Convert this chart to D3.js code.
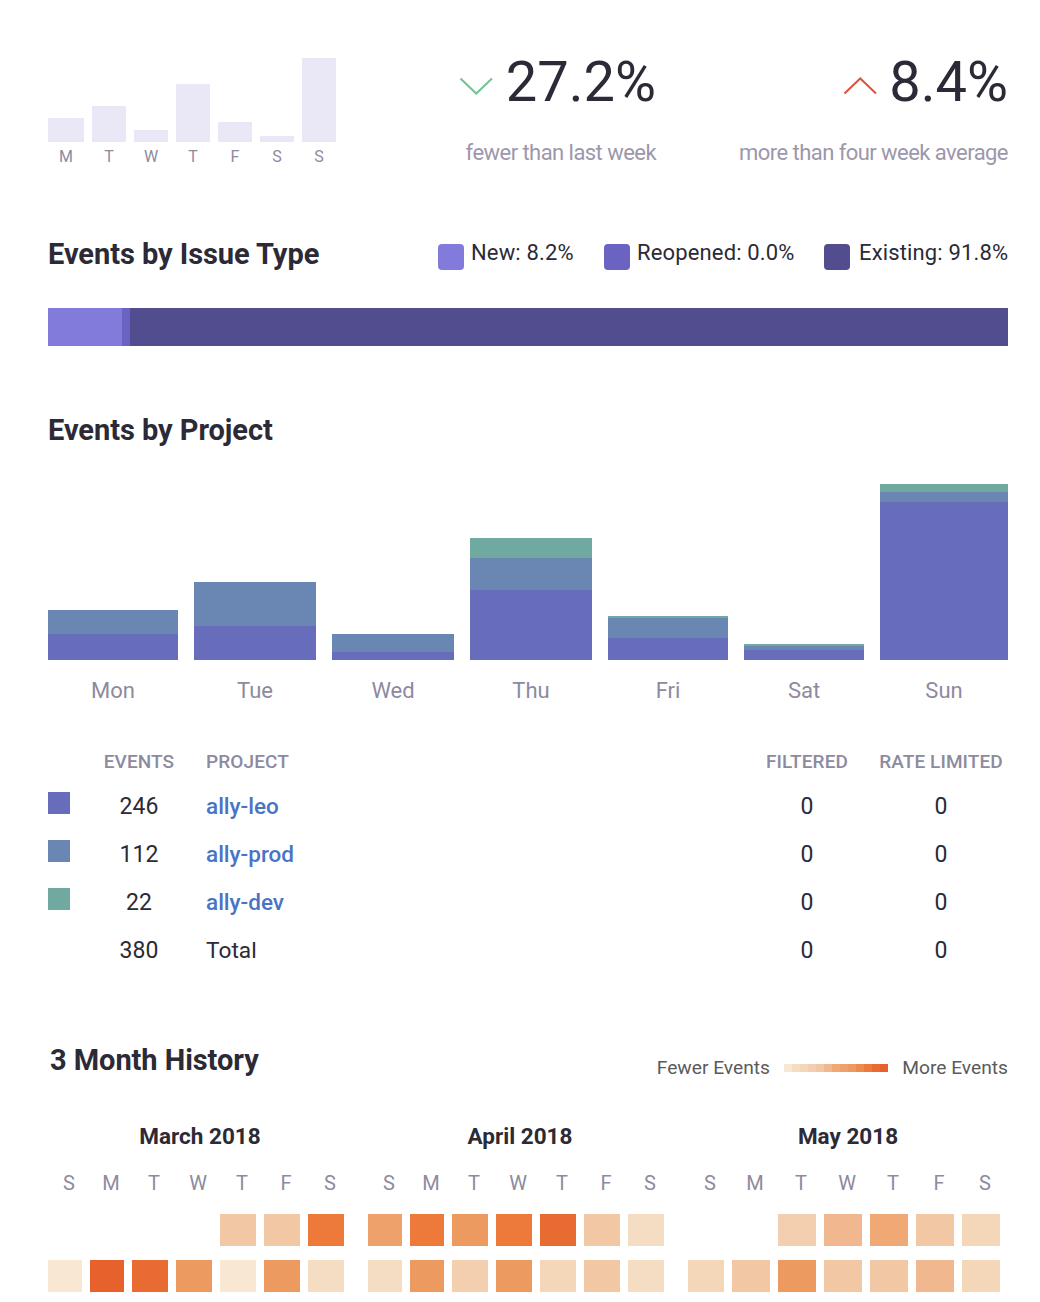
<!DOCTYPE html>
<html>
<head>
<meta charset="utf-8">
<script src="https://cdn.jsdelivr.net/npm/d3@7"></script>
<style>
  html, body { margin: 0; padding: 0; background: #fff; }
  svg { display: block; font-family: Roboto, sans-serif; }
  .axis path, .axis line { display: none; }
</style>
</head>
<body>
<svg id="chart" width="1040" height="1302"></svg>
<script>
// ---- data ----
const weekLetters = ['M', 'T', 'W', 'T', 'F', 'S', 'S'];
const weekEvents = [24, 36, 12, 58, 20, 6, 84];

const issueNames = ['New', 'Reopened', 'Existing'];
const issueLabels = ['8.2%', '0.0%', '91.8%'];
// the bar gives Reopened a minimum width, so the drawn shares differ a little from the labels
const issueDrawn = [7.7, 0.8, 91.5];

const days = ['Mon', 'Tue', 'Wed', 'Thu', 'Fri', 'Sat', 'Sun'];
const projects = ['ally-leo', 'ally-prod', 'ally-dev'];
const leoByDay = [19.5, 25.5, 6, 52.5, 16.5, 7.5, 118.5];
const prodByDay = [18, 33, 13.5, 24, 15, 3, 7.5];
const devByDay = [0, 0, 0, 15, 1.5, 1.5, 6];

const tableHeaders = ['EVENTS', 'PROJECT', 'FILTERED', 'RATE LIMITED'];
const projectEvents = [246, 112, 22];
const projectFiltered = [0, 0, 0];
const projectLimited = [0, 0, 0];
const totals = [380, 0, 0];

const calLetters = ['S', 'M', 'T', 'W', 'T', 'F', 'S'];
const monthNames = ['March 2018', 'April 2018', 'May 2018'];
const marchLevels = [[null, null, null, null, 5, 5, 11], [1, 13, 12, 9, 1, 9, 2]];
const aprilLevels = [[8, 11, 9, 11, 12, 5, 2], [2, 9, 4, 9, 3, 5, 2]];
const mayLevels = [[null, null, 4, 6, 7, 5, 3], [3, 5, 9, 5, 5, 6, 3]];
const heatSteps = d3.range(1, 14);

// ---- colours ----
const ink = '#2b2a36';
const muted = '#8d8a9f';
const issueColors = ['#837bdb', '#6b63c1', '#524d8e'];
const projectColors = ['#676dbb', '#6a87b3', '#6fa9a0'];
const heatColors = ['#f7e7d3', '#f5ddc4', '#f4d6b8', '#f3cfb0', '#f2c7a4', '#f1b88f', '#f0a974',
  '#eea16b', '#ed9a60', '#ee8a4b', '#ed7a3b', '#e86b31', '#e6612c'];
const heat = d3.scaleOrdinal(heatSteps, heatColors);

const svg = d3.select('#chart');

// columns in the page are flex items, their widths differ by a pixel or two
function columns(widths, x0, gap) {
  const idx = d3.range(widths.length);
  const lefts = idx.map(i => x0 + d3.sum(widths.slice(0, i)) + gap * i);
  return {
    left: d3.scaleOrdinal(idx, lefts),
    center: d3.scaleOrdinal(idx, lefts.map((l, i) => l + widths[i] / 2)),
    width: d3.scaleOrdinal(idx, widths)
  };
}

function labelAxis(scale, y, labels, size, color, weight) {
  const g = svg.append('g').attr('class', 'axis').attr('transform', `translate(0,${y})`)
    .call(d3.axisBottom(scale).tickSize(0).tickPadding(0).offset(0).tickFormat(i => labels[i]));
  g.attr('fill', null).attr('font-family', null).attr('font-size', null);
  g.selectAll('text').attr('y', 0).attr('dy', null)
    .attr('fill', color).attr('font-size', size).attr('font-weight', weight || 400);
  return g;
}

function text(str, x, y, size, color, anchor, weight, spacing) {
  return svg.append('text').text(str).attr('x', x).attr('y', y)
    .attr('font-size', size).attr('fill', color)
    .attr('text-anchor', anchor || 'start').attr('font-weight', weight || 400)
    .attr('letter-spacing', spacing || null);
}

// ---- week mini bars ----
const miniCols = columns([36, 34, 34, 34, 34, 34, 34], 48, 8);
const miniY = d3.scaleLinear().domain([0, 84]).range([142, 58]);
svg.append('g').selectAll('rect').data(weekEvents).join('rect')
  .attr('x', (d, i) => miniCols.left(i))
  .attr('width', (d, i) => miniCols.width(i))
  .attr('y', d => miniY(d))
  .attr('height', d => miniY(0) - miniY(d))
  .attr('fill', '#eae8f6');
labelAxis(d3.scaleOrdinal(d3.range(7), d3.range(7).map(i => miniCols.center(i))), 162, weekLetters, 16, muted);

// ---- headline numbers ----
function chevron(x0, x1, yEdge, yTip, color) {
  const p = d3.path();
  p.moveTo(x0, yEdge);
  p.lineTo((x0 + x1) / 2, yTip);
  p.lineTo(x1, yEdge);
  svg.append('path').attr('d', p.toString()).attr('fill', 'none')
    .attr('stroke', color).attr('stroke-width', 2);
}
chevron(460.5, 492, 78.5, 93.5, '#72c394');
text('27.2%', 656, 101, 56, ink, 'end', 400);
text('fewer than last week', 656, 160, 22, '#9c97ab', 'end', 400, -0.55);
chevron(844.5, 876, 93.5, 78.5, '#e0523c');
text('8.4%', 1008, 101, 56, ink, 'end', 400);
text('more than four week average', 1008, 160, 22, '#9c97ab', 'end', 400, -0.55);

// ---- issue type ----
text('Events by Issue Type', 48, 264, 29, ink, 'start', 700, -0.05);
const issueSwatchX = [438, 604, 824];
const issueTextGap = [33, 33, 35];
issueNames.forEach((name, i) => {
  svg.append('rect').attr('x', issueSwatchX[i]).attr('y', 244).attr('width', 26).attr('height', 26)
    .attr('rx', 4).attr('fill', issueColors[i]);
  text(`${name}: ${issueLabels[i]}`, issueSwatchX[i] + issueTextGap[i], 260, 22, ink, 'start', 400, 0.15);
});
const issueX = d3.scaleLinear().domain([0, 100]).rangeRound([48, 1008]);
const issueStack = d3.cumsum(issueDrawn);
svg.append('g').selectAll('rect').data(issueDrawn).join('rect')
  .attr('x', (d, i) => issueX(issueStack[i] - d))
  .attr('width', (d, i) => issueX(issueStack[i]) - issueX(issueStack[i] - d))
  .attr('y', 308).attr('height', 38)
  .attr('fill', (d, i) => issueColors[i]);

// ---- events by project ----
text('Events by Project', 48, 440, 29, ink, 'start', 700, -0.05);
const dayCols = columns([130, 122, 122, 122, 120, 120, 128], 48, 16);
const projectY = d3.scaleLinear().domain([0, 132]).range([660, 484]);
const dayRows = days.map((d, i) => ({ 'ally-leo': leoByDay[i], 'ally-prod': prodByDay[i], 'ally-dev': devByDay[i] }));
const stacked = d3.stack().keys(projects)(dayRows);
svg.append('g').selectAll('g').data(stacked).join('g')
  .attr('fill', (d, i) => projectColors[i])
  .selectAll('rect').data(d => d).join('rect')
  .attr('x', (d, i) => dayCols.left(i))
  .attr('width', (d, i) => dayCols.width(i))
  .attr('y', d => projectY(d[1]))
  .attr('height', d => projectY(d[0]) - projectY(d[1]));
labelAxis(d3.scaleOrdinal(d3.range(7), d3.range(7).map(i => dayCols.center(i))), 698, days, 22, muted);

// ---- table ----
const rowY = d3.scalePoint().domain([0, 1, 2, 3]).range([814, 958]);
const colEvents = 139, colProject = 206, colFiltered = 807, colLimited = 941;
text(tableHeaders[0], colEvents, 768, 19, muted, 'middle', 500, 0.1);
text(tableHeaders[1], colProject, 768, 19, muted, 'start', 500, 0.1);
text(tableHeaders[2], colFiltered, 768, 19, muted, 'middle', 500, 0.1);
text(tableHeaders[3], colLimited, 768, 19, muted, 'middle', 500, 0.1);
projects.forEach((name, i) => {
  svg.append('rect').attr('x', 48).attr('y', rowY(i) - 22).attr('width', 22).attr('height', 22)
    .attr('fill', projectColors[i]);
  text(projectEvents[i], colEvents, rowY(i), 23, ink, 'middle');
  text(name, colProject, rowY(i), 22.5, '#4a73c6', 'start', 500);
  text(projectFiltered[i], colFiltered, rowY(i), 23, ink, 'middle');
  text(projectLimited[i], colLimited, rowY(i), 23, ink, 'middle');
});
text(totals[0], colEvents, rowY(3), 23, ink, 'middle');
text('Total', colProject, rowY(3), 22.7, ink);
text(totals[1], colFiltered, rowY(3), 23, ink, 'middle');
text(totals[2], colLimited, rowY(3), 23, ink, 'middle');

// ---- 3 month history ----
text('3 Month History', 50, 1070, 29, ink, 'start', 700, -0.05);
text('Fewer Events', 770, 1074, 19.2, '#5a5a5a', 'end');
text('More Events', 1008, 1074, 19.2, '#5a5a5a', 'end');
const legendX = d3.scaleBand().domain(heatSteps).range([784, 888]);
svg.append('g').selectAll('rect').data(heatSteps).join('rect')
  .attr('x', d => legendX(d)).attr('width', legendX.bandwidth())
  .attr('y', 1064).attr('height', 8)
  .attr('fill', d => heat(d));

const monthLevels = [marchLevels, aprilLevels, mayLevels];
const monthCols = [
  columns([34, 34, 36, 36, 36, 36, 36], 48, 8),
  columns([34, 34, 36, 36, 36, 36, 36], 368, 8),
  columns([36, 38, 38, 38, 38, 38, 38], 688, 8)
];
const monthCenters = [200, 520, 848];
const weekY = d3.scaleBand().domain([0, 1]).range([1214, 1292]).paddingInner(14 / 46);

monthNames.forEach((name, m) => {
  const cols = monthCols[m];
  text(name, monthCenters[m], 1144, 22.5, ink, 'middle', 700);
  // letters sit 4px right of their cells in the source
  const letterX = d3.scaleOrdinal(d3.range(7), d3.range(7).map(i => cols.center(i) + 4));
  labelAxis(letterX, 1190, calLetters, 20, muted);
  monthLevels[m].forEach((week, w) => {
    const cells = week.map((level, col) => ({ level, col })).filter(c => c.level !== null);
    svg.append('g').selectAll('rect').data(cells).join('rect')
      .attr('x', c => cols.left(c.col))
      .attr('width', c => cols.width(c.col))
      .attr('y', weekY(w)).attr('height', weekY.bandwidth())
      .attr('fill', c => heat(c.level));
  });
});
</script>
</body>
</html>
